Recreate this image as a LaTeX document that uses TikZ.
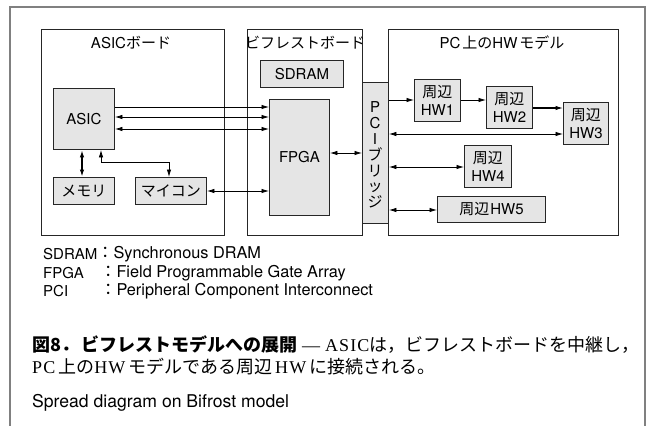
\documentclass[tikz,border=0pt]{standalone}
\usepackage{fontspec}
\setmainfont{TeX Gyre Heros}
\newfontfamily\jp{Noto Sans CJK JP}
\newfontfamily\lserif[LetterSpace=6]{Liberation Serif}
\newfontfamily\lserifp{Liberation Serif}
\usetikzlibrary{arrows.meta}
\begin{document}
\begin{tikzpicture}[x=1pt,y=-1pt,
  font=\fontsize{15}{18}\selectfont,
  board/.style={draw=black!85, line width=0.9pt, anchor=north west, inner sep=0pt},
  blk/.style={draw=black!85, fill=black!10, line width=0.9pt, anchor=north west, inner sep=0pt, align=center},
  con/.style={line width=0.8pt, -{Latex[length=7.5pt,width=4.5pt]}},
  bcon/.style={line width=0.8pt, {Latex[length=7.5pt,width=4.5pt]}-{Latex[length=7.5pt,width=4.5pt]}},
  lbl/.style={inner sep=0pt},
  leg/.style={inner sep=0pt, anchor=west, font=\fontsize{16.3}{19}\selectfont},
  legk/.style={inner sep=0pt, anchor=west, font=\fontsize{15}{19}\selectfont}
]
\useasboundingbox (0,0) rectangle (654,426);
\draw[black!50, line width=1.2pt] (10,426) -- (10,7) -- (645,7) -- (645,426);

% boards
\node[board, minimum width=183pt, minimum height=206pt] (asicb) at (41,29) {};
\node[board, minimum width=115pt, minimum height=206pt] (bifb) at (247,29) {};
\node[board, minimum width=230pt, minimum height=206pt] (pcb) at (388,29) {};
\node[lbl] (asicbl) at (131,43) {ASIC{\jp ボード}};
\node[lbl] (bifbl) at (305,43) {\jp ビフレストボード};
\node[lbl] (pcbl) at (502,43) {PC\kern2pt{\jp 上の}HW\kern2pt{\jp モデル}};

% blocks
\node[blk, minimum width=26pt, minimum height=141pt] (pci) at (362,82) {};
\node[lbl, align=center, font=\fontsize{15}{15.8}\selectfont] (pcit) at (375,155) {P\\C\\I\\{\jp ブ}\\{\jp リ}\\{\jp ッ}\\{\jp ジ}};
\node[blk, minimum width=83pt, minimum height=27pt] (sdram) at (260,60) {SDRAM};
\node[blk, minimum width=60pt, minimum height=116pt] (fpga) at (269,99) {FPGA};
\node[blk, minimum width=61pt, minimum height=61pt] (asic) at (53,88) {ASIC};
\node[blk, minimum width=61pt, minimum height=27pt] (mem) at (53,177) {\jp メモリ};
\node[blk, minimum width=71pt, minimum height=27pt] (mcu) at (135,177) {\jp マイコン};
\node[blk, minimum width=46pt, minimum height=42pt] (hw1) at (414,79) {{\jp 周辺}\\HW1};
\node[blk, minimum width=46pt, minimum height=42pt] (hw2) at (486,86) {{\jp 周辺}\\HW2};
\node[blk, minimum width=45pt, minimum height=42pt] (hw3) at (563,102) {{\jp 周辺}\\HW3};
\node[blk, minimum width=47pt, minimum height=42pt] (hw4) at (464,145) {{\jp 周辺}\\HW4};
\node[blk, minimum width=108pt, minimum height=26pt] (hw5) at (437,196) {{\jp 周辺}\kern1pt HW5};

% helper coordinates
\coordinate (ya) at (0,107);
\coordinate (yb) at (0,117);
\coordinate (yc) at (0,129);
\coordinate (yd) at (0,191);
\coordinate (ye) at (0,153);
\coordinate (y1) at (0,100);
\coordinate (y2) at (0,108);
\coordinate (y3) at (0,134);
\coordinate (y4) at (0,167);
\coordinate (y5) at (0,210);
\coordinate (xm) at (82,0);
\coordinate (k1) at (101,162);
\coordinate (k2) at (169,162);

% connectors
\draw[con] (asic.east |- ya) -- (fpga.west |- ya);
\draw[bcon] (asic.east |- yb) -- (fpga.west |- yb);
\draw[bcon] (asic.east |- yc) -- (fpga.west |- yc);
\draw[bcon] (mcu.east |- yd) -- (fpga.west |- yd);
\draw[bcon, line width=1.6pt] (asic.south -| xm) -- (mem.north -| xm);
\draw[bcon] (asic.south -| k1) -- (k1) -- (k2) -- (mcu.north -| k2);
\draw[bcon] (fpga.east |- ye) -- (pci.west |- ye);
\draw[con] (pci.east |- y1) -- (hw1.west |- y1);
\draw[con] (hw1.east |- y1) -- (hw2.west |- y1);
\draw[con, line width=1.1pt] (hw2.east |- y2) -- (hw3.west |- y2);
\draw[bcon] (pci.east |- y3) -- (hw3.west |- y3);
\draw[bcon] (pci.east |- y4) -- (hw4.west |- y4);
\draw[bcon] (pci.east |- y5) -- (hw5.west |- y5);

% legend
\node[legk] (k_sd) at (43,254) {SDRAM};
\node[leg] (d_sd) at (97,254) {{\jp ：}Synchronous DRAM};
\node[legk] (k_fp) at (43,273) {FPGA};
\node[leg] (d_fp) at (100,273) {{\jp ：}Field Programmable Gate Array};
\node[legk] (k_pc) at (43,291) {PCI};
\node[leg] (d_pc) at (100,291) {{\jp ：}Peripheral Component Interconnect};

% caption
\node[lbl, anchor=west, font=\fontsize{18}{22}\selectfont] (cap1) at (32,345)
  {{\jp\bfseries 図8．\kern2pt ビフレストモデルへの展開}\kern5pt{\lserifp —}\kern5pt{\lserif ASIC}{\jp は，ビフレストボードを中継し，}};
\node[lbl, anchor=west, font=\fontsize{18}{22}\selectfont] (cap2) at (32,367)
  {{\lserif PC}\kern3pt{\jp 上の}{\lserif HW}\kern3pt{\jp モデルである周辺}\kern3pt{\lserif HW}\kern3pt{\jp に接続される。}};
\node[lbl, anchor=west, font=\fontsize{17.6}{21}\selectfont] (cap3) at (32,403) {Spread diagram on Bifrost model};
\end{tikzpicture}
\end{document}
